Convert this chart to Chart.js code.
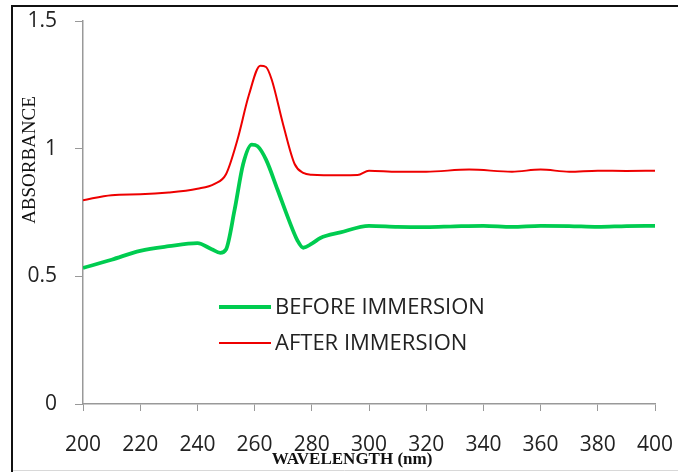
<!DOCTYPE html>
<html>
<head>
<meta charset="utf-8">
<script src="https://cdn.jsdelivr.net/npm/chart.js@4/dist/chart.umd.min.js"></script>
<style>
  html, body { margin: 0; padding: 0; background: #fff; }
  #wrap { width: 678px; height: 472px; position: relative; }
</style>
</head>
<body>
<div id="wrap"><canvas id="myChart" width="678" height="472"></canvas></div>
<script>
// wavelength (nm) / absorbance pairs for each scan
const beforeX = [200, 210, 220, 230, 240, 245, 248, 250, 253, 256, 259, 261, 264, 268, 272, 275, 277, 280, 283, 290, 300, 310, 320, 330, 340, 350, 360, 370, 380, 390, 400];
const beforeY = [0.533, 0.565, 0.600, 0.618, 0.630, 0.606, 0.592, 0.605, 0.760, 0.940, 1.016, 1.010, 0.957, 0.840, 0.720, 0.640, 0.612, 0.628, 0.650, 0.672, 0.698, 0.694, 0.693, 0.696, 0.698, 0.694, 0.698, 0.697, 0.694, 0.697, 0.698];
const afterX = [200, 210, 220, 230, 240, 246, 250, 254, 258, 262, 264, 266, 270, 274, 277, 280, 290, 296, 300, 310, 320, 335, 350, 360, 370, 380, 390, 400];
const afterY = [0.798, 0.818, 0.821, 0.828, 0.843, 0.862, 0.900, 1.035, 1.210, 1.325, 1.320, 1.270, 1.094, 0.940, 0.905, 0.898, 0.896, 0.897, 0.914, 0.910, 0.910, 0.918, 0.910, 0.918, 0.910, 0.914, 0.913, 0.914];
const seriesLabels = ['BEFORE IMMERSION', 'AFTER IMMERSION'];
const xTicks = [200, 220, 240, 260, 280, 300, 320, 340, 360, 380, 400];
const yTicks = [0, 0.5, 1, 1.5];

const toPoints = (xs, ys) => xs.map((x, i) => ({ x: x, y: ys[i] }));

// white page plus the thin frame around it
const framePlugin = {
    id: 'frame',
    beforeDraw(chart) {
        const c = chart.ctx;
        c.save();
        c.fillStyle = '#fff';
        c.fillRect(0, 0, chart.width, chart.height);
        c.strokeStyle = '#d8d8d8';
        c.lineWidth = 1;
        c.beginPath();
        c.moveTo(11, 470.5);
        c.lineTo(chart.width, 470.5);
        c.stroke();
        c.strokeStyle = '#111';
        c.lineWidth = 2;
        c.beginPath();
        c.moveTo(12, 472);
        c.lineTo(12, 6);
        c.lineTo(chart.width, 6);
        c.stroke();
        c.restore();
    }
};

// legend sits inside the plot, and the axis titles are drawn by hand
const overlayPlugin = {
    id: 'overlay',
    afterDraw(chart) {
        const c = chart.ctx;
        c.save();
        const rows = [307, 343];
        chart.data.datasets.forEach((ds, i) => {
            c.strokeStyle = ds.borderColor;
            c.lineWidth = ds.borderWidth;
            c.beginPath();
            c.moveTo(219, rows[i]);
            c.lineTo(271, rows[i]);
            c.stroke();
            c.fillStyle = '#222';
            c.font = '22px "Open Sans"';
            c.textBaseline = 'middle';
            c.textAlign = 'left';
            c.fillText(ds.label, 275, rows[i] + 1);
        });

        c.fillStyle = '#111';
        c.font = 'bold 17px "Liberation Serif"';
        c.textAlign = 'center';
        c.textBaseline = 'alphabetic';
        c.fillText('WAVELENGTH (nm)', 352, 464);

        c.translate(30, 160);
        c.rotate(-Math.PI / 2);
        c.font = '19px "Liberation Serif"';
        c.textBaseline = 'middle';
        c.fillText('ABSORBANCE', 0, 0);
        c.restore();
    }
};

const ctx = document.getElementById('myChart').getContext('2d');
new Chart(ctx, {
    type: 'line',
    data: {
        datasets: [{
                label: seriesLabels[0],
                data: toPoints(beforeX, beforeY),
                borderColor: '#00cc50',
                borderWidth: 3.8,
            },
            {
                label: seriesLabels[1],
                data: toPoints(afterX, afterY),
                borderColor: '#ee0000',
                borderWidth: 2,
            },
        ],
    },
    options: {
        responsive: false,
        animation: false,
        layout: { padding: { top: 21, right: 23, left: 0, bottom: 0 } },
        elements: {
            point: { radius: 0 },
            line: { cubicInterpolationMode: 'monotone' }
        },
        scales: {
            x: {
                type: 'linear',
                min: 200,
                max: 400,
                afterFit: (s) => { s.height = 68; s.paddingLeft = 0; s.paddingRight = 0; },
                afterBuildTicks: (s) => { s.ticks = xTicks.map(v => ({ value: v })); },
                ticks: {
                    padding: 21,
                    color: '#222',
                    font: { family: 'Open Sans', size: 21 }
                },
                grid: { drawOnChartArea: false, tickLength: 7, color: '#999' },
                border: { color: '#999', width: 1.5 }
            },
            y: {
                min: 0,
                max: 1.5,
                afterFit: (s) => { s.width = 83; s.paddingTop = 0; s.paddingBottom = 0; },
                afterBuildTicks: (s) => { s.ticks = yTicks.map(v => ({ value: v })); },
                ticks: {
                    padding: 18,
                    color: '#222',
                    font: { family: 'Open Sans', size: 21 },
                    callback: (v) => String(v)
                },
                grid: { drawOnChartArea: false, tickLength: 8, color: '#999' },
                border: { color: '#999', width: 1.5 }
            }
        },
        plugins: {
            legend: { display: false },
            tooltip: { enabled: false }
        },
    },
    plugins: [framePlugin, overlayPlugin]
});
</script>
</body>
</html>
